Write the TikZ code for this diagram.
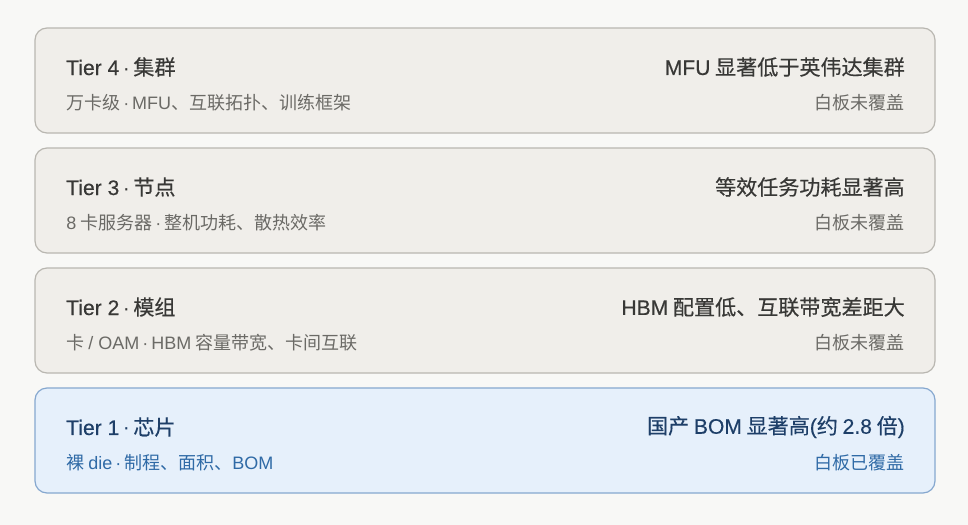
\documentclass[tikz,border=0pt]{standalone}
\usepackage{fontspec}
\setmainfont{Noto Sans CJK SC}
\newfontfamily\medfont{Noto Sans CJK SC}[FakeBold=0.35]
\newfontfamily\latinfont{Liberation Sans}
\newfontfamily\latinmed{Liberation Sans}[FakeBold=0.35]
\newcommand{\lt}[1]{{\latinfont #1}}
\newcommand{\ltm}[1]{{\latinmed #1}}
\newcommand{\md}{\,{\latinfont ·}\,}
\definecolor{bgc}{HTML}{F8F8F6}
\definecolor{boxfill}{HTML}{F0EEEA}
\definecolor{boxline}{HTML}{B9B7B1}
\definecolor{titlec}{HTML}{383836}
\definecolor{subc}{HTML}{6B6A66}
\definecolor{bluefill}{HTML}{E6F0FB}
\definecolor{blueline}{HTML}{86A8CF}
\definecolor{bluetitle}{HTML}{1E3F68}
\definecolor{bluesub}{HTML}{2F6AA6}
\tikzset{
  tierbox/.style={draw=boxline, fill=boxfill, line width=0.9pt, rounded corners=9pt},
  bluebox/.style={draw=blueline, fill=bluefill, line width=0.9pt, rounded corners=9pt},
  ttl/.style={inner sep=0pt, font=\medfont\fontsize{15.8pt}{18pt}\selectfont, text=titlec},
  sub/.style={inner sep=0pt, font=\fontsize{13.5pt}{16pt}\selectfont, text=subc},
}
\begin{document}
\begin{tikzpicture}[x=0.75pt,y=-0.75pt]
\fill[bgc] (0,0) rectangle (968,525);
\useasboundingbox (0,0) rectangle (968,525);
% Tier 4
\draw[tierbox] (35,28) rectangle (935,133);
\node[ttl, anchor=west] (t4l) at (66,67) {\ltm{Tier 4}\md 集群};
\node[ttl, anchor=east] (t4r) at (905,67) {\ltm{MFU} 显著低于英伟达集群};
\node[sub, anchor=west] (t4s) at (66,103) {万卡级\md\lt{MFU}、互联拓扑、训练框架};
\node[sub, anchor=east] (t4c) at (905,103) {白板未覆盖};
% Tier 3
\draw[tierbox] (35,148) rectangle (935,253);
\node[ttl, anchor=west] (t3l) at (66,187) {\ltm{Tier 3}\md 节点};
\node[ttl, anchor=east] (t3r) at (905,187) {等效任务功耗显著高};
\node[sub, anchor=west] (t3s) at (66,223) {\lt{8} 卡服务器\md 整机功耗、散热效率};
\node[sub, anchor=east] (t3c) at (905,223) {白板未覆盖};
% Tier 2
\draw[tierbox] (35,268) rectangle (935,373);
\node[ttl, anchor=west] (t2l) at (66,307) {\ltm{Tier 2}\md 模组};
\node[ttl, anchor=east] (t2r) at (905,307) {\ltm{HBM} 配置低、互联带宽差距大};
\node[sub, anchor=west] (t2s) at (66,343) {卡 \lt{/ OAM}\md\lt{HBM} 容量带宽、卡间互联};
\node[sub, anchor=east] (t2c) at (905,343) {白板未覆盖};
% Tier 1
\draw[bluebox] (35,388) rectangle (935,493);
\node[ttl, anchor=west, text=bluetitle] (t1l) at (66,427) {\ltm{Tier 1}\md 芯片};
\node[ttl, anchor=east, text=bluetitle] (t1r) at (905,427) {国产 \ltm{BOM} 显著高\ltm{(}约 \ltm{2.8} 倍\ltm{)}};
\node[sub, anchor=west, text=bluesub] (t1s) at (66,463) {裸 \lt{die}\md 制程、面积、\lt{BOM}};
\node[sub, anchor=east, text=bluesub] (t1c) at (905,463) {白板已覆盖};
\end{tikzpicture}
\end{document}
